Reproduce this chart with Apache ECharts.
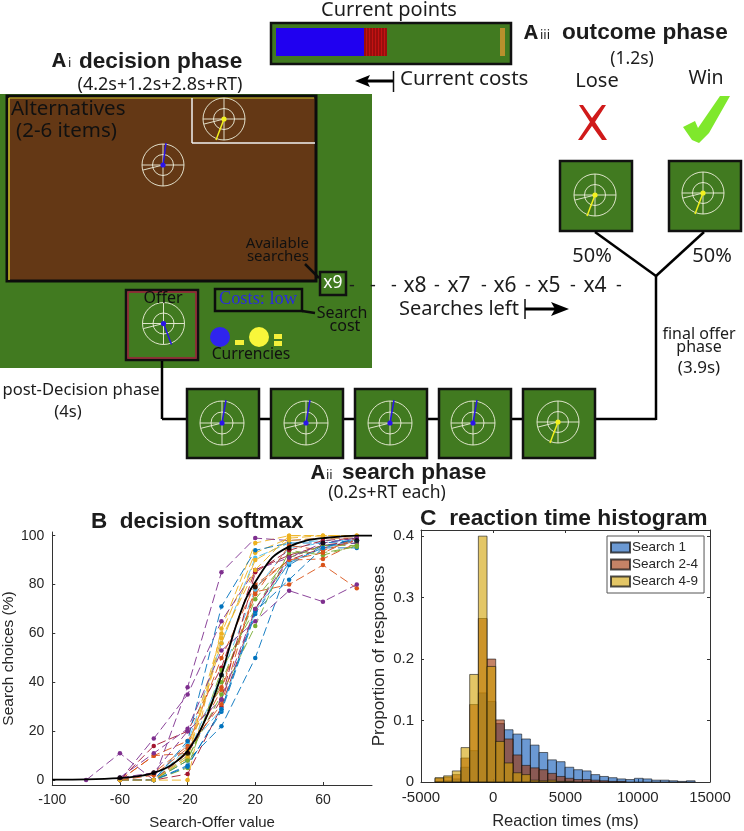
<!DOCTYPE html>
<html>
<head>
<meta charset="utf-8">
<title>Search task</title>
<script src="https://cdn.jsdelivr.net/npm/echarts@6/dist/echarts.min.js"></script>
<style>
  html, body { margin: 0; padding: 0; background: #fff; }
  #chart { width: 744px; height: 831px; }
</style>
</head>
<body>
<div id="chart"></div>
<script>
// panel B: choice curves, one array per participant
const offerValues = [-80, -60, -40, -20, 0, 20, 40, 60, 80];
const p01 = [null, 0, 0, 6, 28, 68, 89, 95, 95];
const p02 = [null, 0, 10, 16, 38, 77, 80, 88, 78.5];
const p03 = [null, 0, 0, 0, 62, 97, 100, 100, 100];
const p04 = [0, 11, 0, 38, 85, 99, 98, 99, 99];
const p05 = [null, 0, 0, 9, 35, 63, 94, 92, 96];
const p06 = [null, 0, 0, 15, 56, 91, 97, 98, 98];
const p07 = [null, 0, 14, 20, 46, 86, 92, 96, 98];
const p08 = [null, 0, 0, 8, 22, 50, 88, 96, 97];
const p09 = [null, 0, 3, 14, 50, 80, 90, 90.5, 97];
const p10 = [null, 0, 0, 12, 60, 93, 99, 100, 100];
const p11 = [null, 0, 17, 35, 65, 86, 91, 96, 97];
const p12 = [null, 0, 0, 5, 45, 70, 93, 93, 95.5];
const p13 = [null, 0, 0, 10, 43, 78, 95, 97, 99];
const p14 = [null, 0, 0, 2.5, 30, 70, 90, 95, 98];
const p15 = [null, 0, 0, 16, 71, 94, 97, 97, 98];
const p16 = [null, 0, 10, 11, 37, 76, 96, 94, 98];
const p17 = [null, 0, 0, 9, 56, 90, 98, 99, 99];
const p18 = [null, 1, 11, 21, 53, 65, 77.5, 73, 80];
const p19 = [null, 0, 0, 8, 40, 74, 91, 96, 96];
const p20 = [null, 0, 0, 13, 29, 69, 89, 95, 98];
const p21 = [null, 0, 0, 11, 33, 85, 94, 98, 99];
const p22 = [null, 0, 0, 5.5, 29, 69, 82, 95, 99];
const p23 = [null, 0, 2, 13, 31, 79, 90, 93, 99];
const p24 = [null, 0, 0, 10, 58, 86, 100, 100, 100];
const p25 = [null, 1, 3, 20, 33, 70, 91, 97, 99];
const participants = [p01, p02, p03, p04, p05, p06, p07, p08, p09, p10, p11, p12, p13,
  p14, p15, p16, p17, p18, p19, p20, p21, p22, p23, p24, p25];

const meanPoints = [1, 3, 11, 43, 79, 95, 97, 98];
const meanPointX = [-60, -40, -20, 0, 20, 40, 60, 80];
const fitX = [-100, -80, -60, -50, -40, -30, -20, -10, 0, 5, 10, 15, 20, 30, 40, 50, 60, 80, 89];
const fitY = [0.2, 0.3, 0.8, 1.5, 3, 6, 12, 24, 43, 55, 66, 75, 81, 91, 95.5, 98, 99, 100, 100];

// panel C: histogram, 30 bins
const binEdges = [-4030, -3430, -2830, -2230, -1630, -1030, -430, 170, 770, 1370, 1970, 2570,
  3170, 3770, 4370, 4970, 5570, 6170, 6770, 7370, 7970, 8570, 9170, 9770, 10370, 10970,
  11570, 12170, 12770, 13370, 13970];
const search1 = [0.001, 0.002, 0.005, 0.024, 0.051, 0.145, 0.131, 0.095, 0.085, 0.078, 0.07, 0.06,
  0.048, 0.036, 0.033, 0.024, 0.02, 0.018, 0.012, 0.009, 0.007, 0.005, 0.004, 0.006, 0.005,
  0.003, 0.003, 0.002, 0.001, 0.002];
const search24 = [0.006, 0.008, 0.012, 0.039, 0.126, 0.266, 0.2, 0.101, 0.07, 0.044, 0.027, 0.023,
  0.02, 0.014, 0.009, 0.006, 0.004, 0.004, 0.003, 0.002, 0.001, 0.001, 0, 0, 0, 0, 0, 0, 0, 0];
const search49 = [0.007, 0.01, 0.018, 0.056, 0.175, 0.4, 0.188, 0.066, 0.031, 0.015, 0.012, 0.003,
  0.002, 0.003, 0.001, 0.001, 0, 0, 0, 0, 0, 0, 0, 0, 0, 0, 0, 0, 0, 0];

const softmaxTicksX = [-100, -60, -20, 20, 60];
const softmaxTicksY = [0, 20, 40, 60, 80, 100];
const histTicksY = [0, 0.1, 0.2, 0.3, 0.4];

const matlabColors = ['#0072BD', '#D95319', '#EDB120', '#7E2F8E', '#77AC30', '#4DBEEE', '#A2142F'];
const axisFont = 'Liberation Sans';
const labelFont = 'Noto Sans';
const inkColor = '#262626';
const panelGreen = '#417A20';

// schematic helpers, all in page pixels
const g = [];
function line(x1, y1, x2, y2, stroke, lineWidth) {
  g.push({ type: 'line', silent: true, shape: { x1, y1, x2, y2 }, style: { stroke: stroke || '#000', lineWidth: lineWidth || 2.5 } });
}
function rect(x, y, width, height, fill, stroke, lineWidth) {
  g.push({ type: 'rect', silent: true, shape: { x, y, width, height }, style: { fill: fill || 'none', stroke: stroke || 'none', lineWidth: lineWidth || 0 } });
}
function circle(cx, cy, r, fill, stroke, lineWidth) {
  g.push({ type: 'circle', silent: true, shape: { cx, cy, r }, style: { fill: fill || 'none', stroke: stroke || 'none', lineWidth: lineWidth || 0 } });
}
function poly(points, fill) {
  g.push({ type: 'polygon', silent: true, shape: { points }, style: { fill } });
}
function text(str, x, y, size, opts) {
  opts = opts || {};
  g.push({
    type: 'text', silent: true, x, y,
    style: {
      text: str, fontSize: size, fontFamily: opts.font || labelFont, fontWeight: opts.weight || 'normal',
      fill: opts.fill || '#1c1c1c', align: opts.align || 'center', verticalAlign: 'middle'
    }
  });
}
function dial(cx, cy, r, tipX, tipY, handColor) {
  const c = 'rgba(238,240,220,0.9)';
  circle(cx, cy, r, null, c, 1);
  circle(cx, cy, r / 2, null, c, 1);
  line(cx - r, cy, cx + r, cy, c, 1);
  line(cx, cy - r, cx, cy + r, c, 1);
  line(cx, cy, cx - r + 1, cy + r * 0.24, c, 1);
  line(cx, cy, cx + tipX, cy + tipY, handColor, 1.5);
  circle(cx, cy, 2.6, handColor);
}
function box(x, y, w, h) {
  rect(x + 1, y + 1, w - 2, h - 2, panelGreen, '#111', 2.5);
}

const blueHand = '#2a14e8';
const yellowHand = '#f2f01e';
const titleFont = { weight: 'bold', align: 'left', font: 'Liberation Sans' };

// decision phase panel
rect(0, 94, 372, 274, panelGreen);
rect(7, 96, 309, 185, '#643815', '#0c0c0c', 3);
line(9, 98, 9, 280, '#c9c12a', 1.5);
line(9, 98, 314, 98, '#c9c12a', 1);
line(192, 98, 192, 143, '#f0f0f0', 1.5);
line(192, 143, 315, 143, '#f0f0f0', 1.5);
dial(224, 119, 21, -8, 21, yellowHand);
dial(163, 165, 21, 3, -22, blueHand);
text('Alternatives', 11, 109, 20.5, { align: 'left', fill: '#111' });
text('(2-6 items)', 16, 131, 20.5, { align: 'left', fill: '#111' });
text('Available', 309, 244, 15, { align: 'right', fill: '#111' });
text('searches', 309, 257, 15, { align: 'right', fill: '#111' });
line(305, 264, 319, 278, '#0c0c0c', 2.5);
box(319, 271, 28, 25);
text('x9', 333, 283, 17.5, { fill: '#fff' });

box(125, 289, 74, 72);
rect(128, 292, 68, 66, null, '#a01c3c', 1.5);
dial(163.5, 323.5, 21, 8, 21, blueHand);
text('Offer', 163, 298, 16, { fill: '#111' });

rect(215, 289, 87, 22, null, '#0c0c0c', 2.5);
text('Costs: low', 258, 299, 18.4, { font: 'Liberation Serif', fill: '#2a2ae0' });
line(302, 311, 315, 313, '#0c0c0c', 2.5);
text('Search', 342, 313, 16, { fill: '#111' });
text('cost', 345, 326, 16, { fill: '#111' });
circle(220, 337, 10, '#2f24ee');
rect(235, 340, 9, 5, '#f4f03a');
circle(259, 337, 10, '#f8f63a');
rect(274, 334, 8, 5, '#f4f03a');
rect(274, 341, 8, 5, '#f4f03a');
text('Currencies', 251, 355, 15.7, { fill: '#111' });

text('A', 59, 61, 20, { weight: 'bold' });
text('i', 68, 63, 13, { align: 'left' });
text('decision phase', 79, 62, 22.6, titleFont);
text('(4.2s+1.2s+2.8s+RT)', 160, 85, 18);

// current points bar
text('Current points', 389, 10, 20);
rect(271, 23, 240, 41, panelGreen, '#111', 2.5);
rect(276, 28, 88, 28, '#2000f0');
rect(364, 28, 23, 28, '#c41212');
for (let i = 0; i < 8; i++) line(365 + i * 3, 28, 365 + i * 3, 56, '#5a0808', 0.8);
rect(500, 28, 5, 28, '#b8902c');
line(393.5, 71, 393.5, 92, '#111', 1.5);
line(393, 81, 366, 81, '#000', 3);
poly([[355, 81], [370, 75], [367, 81], [370, 87]], '#000');
text('Current costs', 400, 79, 20.5, { align: 'left' });

// outcome phase
text('A', 531, 33, 20, { weight: 'bold' });
text('iii', 540, 35, 13, { align: 'left' });
text('outcome phase', 562, 33, 22.6, titleFont);
text('(1.2s)', 632, 59, 17.5);
text('Lose', 597, 81, 20);
text('Win', 706, 78, 19.5);
poly([[579, 105], [583, 105], [592, 118], [602, 105], [606, 105], [595, 122], [607, 140], [602, 140], [592, 126], [582, 140], [578, 140], [590, 122]], '#d01a1a');
poly([[683, 127], [695, 121], [698, 128], [720, 96], [730, 96], [709, 133], [699, 143], [692, 140]], '#7fe82c');
box(559, 160, 74, 72);
box(668, 160, 74, 72);
dial(595, 195, 21, -8, 21, yellowHand);
dial(703, 193, 21, -8, 21, yellowHand);
text('50%', 592, 256, 20);
text('50%', 712, 256, 20);
line(595, 232, 656, 276);
line(704, 232, 656, 276);

// search phase
line(162, 361, 162, 419);
line(162, 419, 656, 419);
line(656, 276, 656, 420);
text('post-Decision phase', 81, 390, 16.6);
text('(4s)', 68, 412, 16.6);
const searchBoxX = [186, 270, 354, 438, 522];
const searchDialX = [222, 306, 390, 473, 558];
searchBoxX.forEach((x, i) => {
  box(x, 388, 74, 71);
  if (i < 4) dial(searchDialX[i], 423, 22, 4, -23, blueHand);
  else dial(searchDialX[i], 422, 21, -8, 21, yellowHand);
});
text('A', 318, 473, 20, { weight: 'bold' });
text('ii', 326, 475, 13, { align: 'left' });
text('search phase', 342, 473, 22.6, titleFont);
text('(0.2s+RT each)', 387, 493, 17.5);

// searches left strip
const stripLabels = ['x8', 'x7', 'x6', 'x5', 'x4'];
const stripX = [415, 459, 505, 549, 595];
const stripDashX = [352, 373, 394, 437, 484, 528, 573, 619];
stripLabels.forEach((s, i) => text(s, stripX[i], 286, 21));
stripDashX.forEach(x => text('-', x, 286, 18));
text('Searches left', 459, 309, 20);
line(525, 299, 525, 319, '#111', 1.5);
line(525, 309, 558, 309, '#000', 3);
poly([[569, 309], [551, 302], [555, 309], [551, 316]], '#000');
text('final offer', 699, 334, 16);
text('phase', 699, 347, 16);
text('(3.9s)', 699, 368, 17);

// panel titles
text('B  decision softmax', 91, 522, 22.5, titleFont);
text('C  reaction time histogram', 420, 519, 22.8, titleFont);

const pairs = (xs, ys) => xs.map((x, i) => [x, ys[i]]).filter(p => p[1] !== null);

function renderBin(params, api) {
  const a = api.coord([api.value(0), api.value(2)]);
  const b = api.coord([api.value(1), 0]);
  return {
    type: 'rect',
    shape: { x: a[0], y: a[1], width: b[0] - a[0], height: b[1] - a[1] },
    style: api.style()
  };
}
function histSeries(name, values, color) {
  return {
    name, type: 'custom', xAxisIndex: 1, yAxisIndex: 1, renderItem: renderBin,
    encode: { x: [0, 1], y: 2 },
    itemStyle: { color, borderColor: 'rgba(20,20,20,0.75)', borderWidth: 0.8 },
    data: values.map((v, i) => [binEdges[i], binEdges[i + 1], v]).filter(d => d[2] > 0),
    z: 3
  };
}

const softmaxSeries = participants.map((values, i) => ({
  type: 'line', xAxisIndex: 0, yAxisIndex: 0,
  data: pairs(offerValues, values),
  symbol: 'circle', symbolSize: 4.5,
  itemStyle: { color: matlabColors[i % 7] },
  lineStyle: { color: matlabColors[i % 7], width: 0.9, type: [9, 4] },
  clip: false, z: 2
}));
softmaxSeries.push({
  type: 'line', xAxisIndex: 0, yAxisIndex: 0,
  data: pairs(fitX, fitY), smooth: 0.3, showSymbol: false,
  lineStyle: { color: '#000', width: 1.8 }, z: 4
});
softmaxSeries.push({
  type: 'scatter', xAxisIndex: 0, yAxisIndex: 0,
  data: pairs(meanPointX, meanPoints), symbolSize: 5,
  itemStyle: { color: '#000' }, z: 5
});

const plainNumber = v => String(v);
const tickLabel = { fontFamily: axisFont, fontSize: 14, color: inkColor, hideOverlap: false, formatter: plainNumber };
const histTickLabel = { ...tickLabel, fontSize: 15 };
const axisLine = { onZero: false, lineStyle: { color: '#333', width: 1 } };
const nameText = size => ({ fontFamily: axisFont, fontSize: size, color: inkColor });

const option = {
  animation: false,
  backgroundColor: '#fff',
  graphic: { elements: g },
  legend: {
    data: ['Search 1', 'Search 2-4', 'Search 4-9'],
    orient: 'vertical', left: 607, top: 536, padding: [4, 6, 4, 3],
    itemWidth: 19, itemHeight: 10, itemGap: 2, icon: 'rect',
    backgroundColor: '#fff', borderColor: '#555', borderWidth: 1,
    textStyle: { fontFamily: axisFont, fontSize: 13.5, color: inkColor, lineHeight: 15, padding: [0, 0, 0, -3] }
  },
  grid: [
    { left: 47, width: 325, top: 532, height: 261 },
    { left: 421, width: 289, top: 530, height: 259 }
  ],
  xAxis: [
    {
      gridIndex: 0, type: 'value', min: -100, max: 89,
      name: 'Search-Offer value', nameLocation: 'middle', nameGap: 30, nameTextStyle: nameText(15),
      splitLine: { show: false }, axisLine,
      axisTick: { inside: true, length: 3, customValues: softmaxTicksX, lineStyle: { color: '#333' } },
      axisLabel: { ...tickLabel, customValues: softmaxTicksX, margin: 8 }
    },
    {
      gridIndex: 1, type: 'value', min: -5000, max: 15000, interval: 5000,
      name: 'Reaction times (ms)', nameLocation: 'middle', nameGap: 31, nameTextStyle: nameText(16.5),
      splitLine: { show: false }, axisLine,
      axisTick: { inside: true, length: 3, lineStyle: { color: '#333' } },
      axisLabel: { ...histTickLabel, margin: 8 }
    },
    {
      gridIndex: 1, type: 'value', position: 'top', min: -5000, max: 15000, interval: 5000,
      splitLine: { show: false }, axisLine,
      axisTick: { inside: true, length: 3, lineStyle: { color: '#333' } },
      axisLabel: { show: false }
    }
  ],
  yAxis: [
    {
      gridIndex: 0, type: 'value', min: -2, max: 101.5,
      name: 'Search choices (%)', nameLocation: 'middle', nameGap: 32, nameTextStyle: nameText(15.5),
      splitLine: { show: false }, axisLine: { show: true, ...axisLine },
      axisTick: { show: true, inside: true, length: 3, customValues: softmaxTicksY, lineStyle: { color: '#333' } },
      axisLabel: { ...tickLabel, customValues: softmaxTicksY, margin: 8 }
    },
    {
      gridIndex: 1, type: 'value', min: 0, max: 0.41,
      name: 'Proportion of responses', nameLocation: 'middle', nameGap: 33, nameTextStyle: nameText(17),
      splitLine: { show: false }, axisLine: { show: true, ...axisLine },
      axisTick: { show: true, inside: true, length: 3, customValues: histTicksY, lineStyle: { color: '#333' } },
      axisLabel: { ...histTickLabel, customValues: histTicksY, margin: 7 }
    },
    {
      gridIndex: 1, type: 'value', position: 'right', min: 0, max: 0.41,
      splitLine: { show: false }, axisLine: { show: true, ...axisLine },
      axisTick: { show: true, inside: true, length: 3, customValues: histTicksY, lineStyle: { color: '#333' } },
      axisLabel: { show: false }
    }
  ],
  series: [
    ...softmaxSeries,
    histSeries('Search 1', search1, 'rgba(0,80,180,0.58)'),
    histSeries('Search 2-4', search24, 'rgba(158,48,0,0.6)'),
    histSeries('Search 4-9', search49, 'rgba(208,160,0,0.6)')
  ]
};

const chart = echarts.init(document.getElementById('chart'), null, { renderer: 'canvas' });
chart.setOption(option);
</script>
</body>
</html>
